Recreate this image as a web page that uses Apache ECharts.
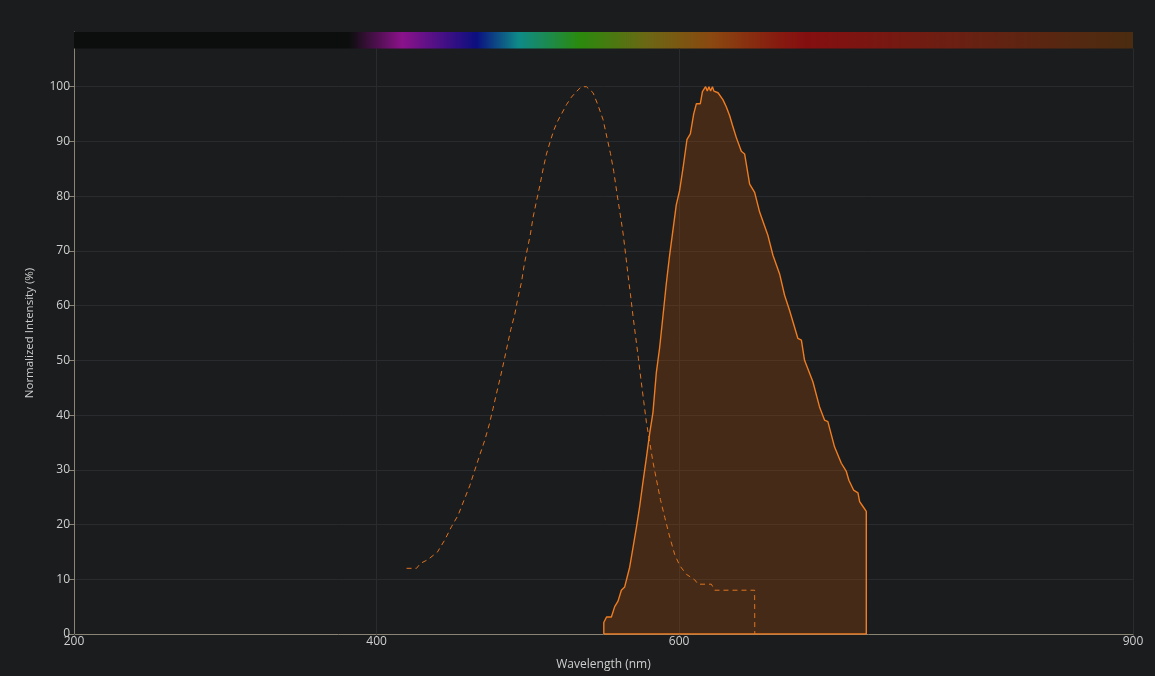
<!DOCTYPE html>
<html>
<head>
<meta charset="utf-8">
<script src="https://cdn.jsdelivr.net/npm/echarts@6/dist/echarts.min.js"></script>
<style>
  html, body { margin: 0; padding: 0; background: #1b1c1e; }
  #frame { position: absolute; left: 0; top: 0; width: 1155px; height: 676px; box-sizing: border-box;
           border-top: 2px solid #7d7767; border-left: 5px solid #19191a; }
  #chart { position: absolute; left: 0; top: 0; width: 1155px; height: 676px; }
</style>
</head>
<body>
<div id="frame"></div>
<div id="chart"></div>
<script>
// Excitation spectrum (dashed outline)
const excitationWavelength = [419.8, 426.4, 429, 434, 440.3, 445.1, 449.5, 453.9, 458.3, 461.6, 465, 468.2, 471.5, 474.4, 477, 479.3, 481.9, 484.1, 486.5, 488.7, 491.4, 493.5, 495.8, 497.5, 499.7, 501.7, 503.5, 505.7, 507.9, 510.1, 512.3, 515, 517.1, 519.3, 522.2, 525.5, 528.8, 531.7, 535.4, 538.7, 543.1, 546.4, 549.7, 552.3, 554.6, 556.8, 559, 561.2, 563, 564.7, 566.2, 567.8, 569.5, 571.3, 573.1, 574.8, 576.6, 578.4, 580.6, 582.7, 585, 587.6, 590.5, 593.8, 597.1, 600.4, 604.8, 610.3, 612.5, 621.3, 623.5, 649.9, 650];
const excitationIntensity  = [12.0, 12.0, 12.9, 13.6, 15.0, 17.2, 19.6, 21.7, 24.8, 27.1, 30, 32.7, 35.4, 38.2, 41.2, 44, 47, 49.7, 52.8, 55.6, 58.5, 61.5, 64.3, 67.3, 70.4, 73.1, 76.2, 79.1, 81.9, 85, 87.7, 90.2, 92, 93.5, 95, 96.7, 98.1, 99, 100, 100, 98.9, 96.6, 94, 90.7, 87.8, 84.5, 80.3, 76.4, 73.1, 69.2, 65.6, 62.1, 58.1, 54.2, 50.3, 46.4, 42.5, 38.6, 35, 31.4, 28.2, 24.6, 21.3, 17.7, 14.5, 12.5, 10.9, 9.9, 9.1, 9.1, 8.0, 8.0, 0];

// Emission spectrum (filled, closed outline)
const emissionWavelength = [550.2, 550.2, 552, 555.2, 557.4, 559.6, 561.8, 564, 567.3, 569.5, 571.7, 573.9, 576.1, 578.3, 580.5, 582.7, 584.9, 587.1, 589.3, 591.5, 593.7, 595.9, 598.1, 600.3, 602.6, 605.2, 607.4, 609.6, 611.4, 614, 615.4, 617.5, 618.6, 619.7, 620.8, 622, 623, 625.7, 629, 631.2, 633.4, 635.2, 637.8, 641.1, 643.3, 646.6, 649.9, 653.2, 658.7, 662, 666.4, 669.7, 673, 678.5, 680.8, 682.9, 688.4, 692.8, 696.1, 698.3, 702.7, 707.2, 710.5, 712.2, 715.3, 718.2, 719.3, 721.5, 723.7, 723.7, 550.2];
const emissionIntensity  = [0, 2.1, 3.1, 3.1, 5.0, 6.0, 8.0, 8.6, 12.2, 15.8, 19.4, 23.3, 27.8, 32.1, 36.6, 40.5, 47.7, 52.3, 58.1, 64, 69.2, 73.8, 78.4, 81, 85.2, 90.4, 91.4, 95, 96.9, 96.9, 99.1, 100, 99.2, 100, 99.2, 100, 99.2, 98.9, 97.6, 96.3, 94.7, 93, 90.7, 88.2, 87.7, 82.2, 80.7, 77.1, 72.8, 69.2, 65.8, 61.9, 59.1, 54, 53.7, 50, 46.1, 41.5, 39.1, 38.8, 34.2, 31.2, 29.7, 28.1, 26.3, 25.8, 24.2, 23.3, 22.4, 0, 0];

// Axis ticks
const xTickValues = [200, 400, 600, 900];
const yTickValues = [0, 10, 20, 30, 40, 50, 60, 70, 80, 90, 100];

// Visible spectrum band along the top (wavelength, colour)
const spectrumStops = [
  [200, '#0c0e0d'], [382, '#0c0e0d'], [417, '#8b128b'], [466, '#0b0f80'],
  [494, '#0f8a88'], [534, '#2a8a0e'], [579, '#6c6714'], [622, '#8a4810'],
  [666, '#861a10'], [684, '#850f10'], [785, '#6a2012'], [900, '#4a2c10']
];

const zip = (a, b) => a.map((v, i) => [v, b[i]]);

const chart = echarts.init(document.getElementById('chart'));
const font = 'Open Sans';
const gridColor = '#2a2b2e';

chart.setOption({
  backgroundColor: '#1b1c1e',
  animation: false,
  textStyle: { fontFamily: font },
  grid: { left: 74, right: 22, top: 32, bottom: 41 },
  xAxis: {
    type: 'value', min: 200, max: 900, interval: 100,
    name: 'Wavelength (nm)', nameLocation: 'middle', nameGap: 25,
    nameTextStyle: { color: '#cfcfcf', fontSize: 12, fontFamily: font },
    axisLine: { show: true, lineStyle: { color: '#8a8474', width: 1 } },
    axisTick: { show: true, customValues: xTickValues, length: 3, lineStyle: { color: '#4a4a4a' } },
    axisLabel: { customValues: xTickValues, color: '#cfcfcf', fontSize: 12, fontFamily: font, margin: 2 },
    splitLine: { show: false }
  },
  yAxis: {
    type: 'value', min: 0, max: 110, interval: 10,
    name: 'Normalized Intensity (%)', nameLocation: 'middle', nameGap: 38,
    nameTextStyle: { color: '#cfcfcf', fontSize: 11.5, fontFamily: font },
    axisLine: { show: true, lineStyle: { color: '#8a8474', width: 1 } },
    axisTick: { show: true, customValues: yTickValues, length: 5, lineStyle: { color: '#8a8474' } },
    axisLabel: { customValues: yTickValues, color: '#cfcfcf', fontSize: 12, fontFamily: font, margin: 4 },
    splitLine: { show: true, lineStyle: { color: gridColor, width: 1 } }
  },
  series: [
    {
      name: 'Emission',
      type: 'line',
      data: zip(emissionWavelength, emissionIntensity),
      showSymbol: false,
      z: 3,
      lineStyle: { color: '#ee7c22', width: 1.4 },
      areaStyle: { color: 'rgba(185,82,5,0.38)', origin: 0 },
      markLine: {
        silent: true, symbol: 'none', label: { show: false },
        lineStyle: { color: gridColor, type: 'solid', width: 1 },
        data: xTickValues.slice(1).map(v => [{ coord: [v, 0] }, { coord: [v, 107] }]),
        z: 1
      },
      markArea: {
        silent: true, label: { show: false },
        itemStyle: {
          color: {
            type: 'linear', x: 0, y: 0, x2: 1, y2: 0,
            colorStops: spectrumStops.map(([w, c]) => ({ offset: (w - 200) / 700, color: c }))
          }
        },
        data: [[{ xAxis: 200, yAxis: 107 }, { xAxis: 900, yAxis: 110 }]]
      }
    },
    {
      name: 'Excitation',
      type: 'line',
      data: zip(excitationWavelength, excitationIntensity),
      showSymbol: false,
      z: 4,
      lineStyle: { color: '#e07420', width: 1, type: [5, 4] }
    }
  ]
});
</script>
</body>
</html>
